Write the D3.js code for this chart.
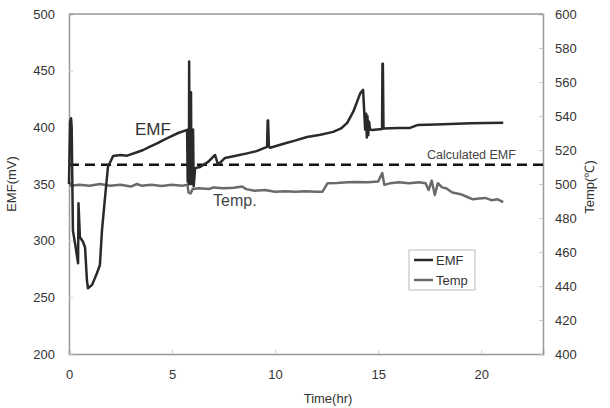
<!DOCTYPE html>
<html>
<head>
<meta charset="utf-8">
<script src="https://cdn.jsdelivr.net/npm/d3@7"></script>
<style>
  body { margin: 0; background: #fff; }
  text { font-family: "Liberation Sans", Arial, sans-serif; }
</style>
</head>
<body>
<div id="chart"></div>
<script>
// Data
var emfTime = [0, 0.05, 0.1, 0.13, 0.19, 0.29, 0.44, 0.46, 0.53, 0.68, 0.78, 0.87, 0.92, 1.12, 1.36, 1.5, 1.6, 1.75, 1.89, 2.14, 2.5, 2.82, 3.3, 3.6, 3.93, 4.3, 4.6, 4.9, 5.3, 5.73,
  5.76, 5.79, 5.82, 5.83, 5.85, 5.88, 5.9, 5.92, 5.94, 5.96, 5.99, 6.02, 6.05,
  6.12, 6.36, 6.75, 7.09, 7.23, 7.57, 8.1, 8.64, 9.1, 9.61, 9.64, 9.66, 9.7, 9.76, 10.5, 11.0, 11.55, 12.2, 12.82, 13.2, 13.5, 13.8, 14.13, 14.27,
  14.37, 14.42, 14.45, 14.48, 14.52, 14.56, 14.61, 14.7, 15.19, 15.21, 15.23, 15.26, 16.0, 16.55, 16.9, 17.8, 18.5, 19.5, 21.07];
var emfValues = [350, 405, 408, 400, 309, 298, 280, 333, 303, 299, 294, 265, 258, 261, 271.5, 278.5, 309, 338.5, 365, 374.7, 375.5, 375, 378, 380, 383, 386, 389, 391.5, 395, 397.7,
  352, 398, 350, 458, 352, 431, 350, 431, 350, 398, 350, 398, 348,
  364, 365, 369.5, 375.6, 367, 373, 375, 377, 379, 382.7, 406, 406, 383, 382, 386, 388.5, 391.5, 393.5, 396, 399, 404, 414, 430, 433,
  398, 412, 391, 410, 393, 405, 398, 397.7, 398.5, 456, 456, 399, 399.5, 399.5, 402, 402.5, 403, 403.5, 404];

var tempTime = [0, 0.1, 0.5, 1.0, 1.5, 2.0, 2.5, 3.0, 3.3, 3.5, 4.0, 4.5, 5.0, 5.5, 5.75, 5.8, 5.9, 6.0, 6.3, 6.8, 7.0, 7.5, 8.0, 8.4, 8.6, 9.0, 9.5, 10, 10.5, 11, 11.5, 12, 12.3,
  12.55, 13, 13.5, 14, 14.5, 15.0, 15.2, 15.3, 15.6, 16, 16.5, 17.0, 17.3, 17.45, 17.6, 17.75, 17.9, 18.1, 18.3, 18.6, 19.0, 19.3, 19.6, 19.9, 20.2, 20.5, 20.8, 21.07];
var tempValues = [501, 499, 499.5, 499, 500, 499, 499.5, 498.5, 500, 499, 499.5, 498.8, 499.5, 499, 499.5, 495, 494.5, 497, 497.5, 497, 498, 497.5, 497.8, 498.5, 497, 496, 496.5, 495.5, 495.8, 495.5, 495.8, 495.5, 495.5,
  500.5, 500.6, 501, 501.2, 501, 501.5, 506.5, 499.5, 500.5, 501, 500.5, 501, 500.5, 496.5, 502, 493.5, 500.5, 498, 497.5, 495, 494, 492.5, 491, 491.5, 491.8, 490.5, 491, 489.4];

var calculatedEmf = 367;
var xTicks = [0, 5, 10, 15, 20];
var leftTicks = [200, 250, 300, 350, 400, 450, 500];
var rightTicks = [400, 420, 440, 460, 480, 500, 520, 540, 560, 580, 600];

var svgWidth = 610;
var svgHeight = 408;
var margin = { top: 14, right: 67, bottom: 54, left: 69 };
var chartW = svgWidth - margin.left - margin.right;
var chartH = svgHeight - margin.top - margin.bottom;

var svg = d3.select("#chart")
  .append("svg")
  .attr("width", svgWidth)
  .attr("height", svgHeight);

var chartGrp = svg.append("g")
  .attr("transform", `translate(${margin.left}, ${margin.top})`);

// Scales
var xScale = d3.scaleLinear().domain([0, 23]).range([0, chartW]);
var yLeft = d3.scaleLinear().domain([200, 500]).range([chartH, 0]);
var yRight = d3.scaleLinear().domain([400, 600]).range([chartH, 0]);

// Axes (ticks point inside)
var bottomAxis = d3.axisBottom(xScale).tickValues(xTicks).tickSize(-4).tickPadding(16);
var leftAxis = d3.axisLeft(yLeft).tickValues(leftTicks).tickSize(-4).tickPadding(14);
var rightAxis = d3.axisRight(yRight).tickValues(rightTicks).tickSize(-4).tickPadding(12);

function styleAxis(g) {
  g.select(".domain").attr("stroke", "#999").attr("stroke-width", 1.5);
  g.selectAll(".tick line").attr("stroke", "#ccc");
  g.selectAll(".tick text").attr("fill", "#333").attr("font-size", "13px");
}

chartGrp.append("g")
  .attr("transform", `translate(0, ${chartH})`)
  .call(bottomAxis)
  .call(styleAxis);

chartGrp.append("g")
  .call(leftAxis)
  .call(styleAxis);

chartGrp.append("g")
  .attr("transform", `translate(${chartW}, 0)`)
  .call(rightAxis)
  .call(styleAxis);

// top border
chartGrp.append("line")
  .attr("x1", 0).attr("x2", chartW)
  .attr("y1", 0).attr("y2", 0)
  .attr("stroke", "#999")
  .attr("stroke-width", 1.5);

// Calculated EMF dashed line
chartGrp.append("line")
  .attr("x1", 0).attr("x2", chartW)
  .attr("y1", yLeft(calculatedEmf)).attr("y2", yLeft(calculatedEmf))
  .attr("stroke", "#111")
  .attr("stroke-width", 2.5)
  .attr("stroke-dasharray", "10,6");

// Temp line
var tempData = tempTime.map((t, i) => ({ t: t, v: tempValues[i] }));
var tempLine = d3.line().x(d => xScale(d.t)).y(d => yRight(d.v));
chartGrp.append("path")
  .datum(tempData)
  .attr("d", tempLine)
  .attr("fill", "none")
  .attr("stroke", "#6a6a6a")
  .attr("stroke-width", 2.5)
  .attr("stroke-linejoin", "round");

// EMF line
var emfData = emfTime.map((t, i) => ({ t: t, v: emfValues[i] }));
var emfLine = d3.line().x(d => xScale(d.t)).y(d => yLeft(d.v));
chartGrp.append("path")
  .datum(emfData)
  .attr("d", emfLine)
  .attr("fill", "none")
  .attr("stroke", "#2a2a2a")
  .attr("stroke-width", 2.5)
  .attr("stroke-linejoin", "round");

// In-plot labels
chartGrp.append("text")
  .attr("x", 135 - margin.left)
  .attr("y", 135 - margin.top)
  .attr("font-size", "17px")
  .attr("fill", "#333")
  .text("EMF");

chartGrp.append("text")
  .attr("x", 213 - margin.left)
  .attr("y", 206 - margin.top)
  .attr("font-size", "16px")
  .attr("fill", "#444")
  .text("Temp.");

chartGrp.append("text")
  .attr("x", 427 - margin.left)
  .attr("y", 159 - margin.top)
  .attr("font-size", "12.5px")
  .attr("fill", "#444")
  .text("Calculated EMF");

// Legend
var legend = svg.append("g").attr("transform", "translate(409, 250)");
legend.append("rect")
  .attr("width", 66).attr("height", 40)
  .attr("fill", "#fff")
  .attr("stroke", "#bbb");
var legendItems = [{ name: "EMF", color: "#2a2a2a" }, { name: "Temp", color: "#6a6a6a" }];
legendItems.forEach(function(item, i) {
  legend.append("line")
    .attr("x1", 5).attr("x2", 24)
    .attr("y1", 10 + i * 20).attr("y2", 10 + i * 20)
    .attr("stroke", item.color)
    .attr("stroke-width", 2.5);
  legend.append("text")
    .attr("x", 27)
    .attr("y", 10 + i * 20)
    .attr("dy", "0.35em")
    .attr("font-size", "13px")
    .attr("fill", "#333")
    .text(item.name);
});

// Axis titles
svg.append("text")
  .attr("transform", `translate(${margin.left + chartW / 2 + 22}, 403)`)
  .attr("text-anchor", "middle")
  .attr("font-size", "13px")
  .attr("fill", "#333")
  .text("Time(hr)");

svg.append("text")
  .attr("transform", "translate(16, 184) rotate(-90)")
  .attr("text-anchor", "middle")
  .attr("font-size", "13px")
  .attr("fill", "#333")
  .text("EMF(mV)");

svg.append("text")
  .attr("transform", "translate(594, 187) rotate(-90)")
  .attr("text-anchor", "middle")
  .attr("font-size", "13px")
  .attr("fill", "#333")
  .text("Temp(℃)");
</script>
</body>
</html>
